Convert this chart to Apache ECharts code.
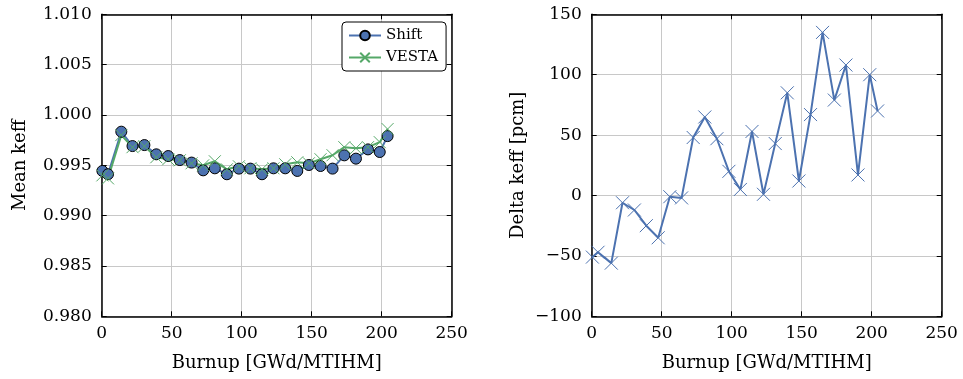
<!DOCTYPE html>
<html>
<head>
<meta charset="utf-8">
<script src="https://cdn.jsdelivr.net/npm/echarts@6/dist/echarts.min.js"></script>
<style>html,body{margin:0;padding:0;background:#fff;}#c{width:963px;height:379px;}</style>
</head>
<body>
<div id="c"></div>
<script>
// Burnup steps [GWd/MTIHM]
var burnup = [0.5, 4.5, 14, 22, 30.5, 39, 47.5, 55.8, 64.2, 72.5, 80.8, 89.4, 98, 106.2, 114.5, 122.7, 131.1, 139.7, 148, 156.3, 164.9, 173.3, 181.6, 190.2, 198.6, 204.2];
// Mean keff, Shift
var shiftKeff = [0.99444, 0.99411, 0.99834, 0.99691, 0.99701, 0.99609, 0.99592, 0.99552, 0.99527, 0.99450, 0.99470, 0.99411, 0.99467, 0.99467, 0.99411, 0.99470, 0.99470, 0.99444, 0.99503, 0.99493, 0.99467, 0.99599, 0.99566, 0.99658, 0.99632, 0.99790];
// Mean keff, VESTA
var vestaKeff = [0.99400, 0.99370, 0.99800, 0.99680, 0.99690, 0.99580, 0.99560, 0.99550, 0.99520, 0.99500, 0.99540, 0.99460, 0.99490, 0.99470, 0.99460, 0.99470, 0.99510, 0.99530, 0.99520, 0.99560, 0.99600, 0.99680, 0.99670, 0.99680, 0.99730, 0.99860];
// Delta keff [pcm]
var deltaPcm = [-51, -47, -56, -6, -12, -25, -35, -1, -2, 48, 65, 47, 20, 5, 53, 1, 43, 85, 12, 67, 135, 79, 108, 17, 100, 70];

var xTicks = [0, 50, 100, 150, 200, 250];
var leftYTicks = [0.980, 0.985, 0.990, 0.995, 1.000, 1.005, 1.010];
var rightYTicks = [-100, -50, 0, 50, 100, 150];

function pairs(xs, ys) { return xs.map(function (x, i) { return [x, ys[i]]; }); }

var FONT = 'DejaVu Serif';
var BLUE = '#4c72b0';
var GREEN = '#55a868';
var XMARK = 'path://M0,0L10,10M0,10L10,0';

function mkX(gridIndex, pos, main) {
  return {
    type: 'value', gridIndex: gridIndex, position: pos,
    min: xTicks[0], max: xTicks[xTicks.length - 1], interval: xTicks[1] - xTicks[0],
    name: main ? 'Burnup [GWd/MTIHM]' : '', nameLocation: 'middle', nameGap: 38,
    nameTextStyle: { fontFamily: FONT, fontSize: 18, color: '#000' },
    axisLine: { show: true, onZero: false, lineStyle: { color: '#000', width: 1.5 } },
    axisTick: { show: true, inside: true, length: 5, lineStyle: { color: '#000', width: 1 } },
    axisLabel: { show: main, fontFamily: FONT, fontSize: 17, color: '#000', margin: 9 },
    splitLine: { show: main, lineStyle: { color: '#c8c8c8', width: 1 } }
  };
}
function mkY(gridIndex, pos, main, ticks, name, gap, fmt) {
  return {
    type: 'value', gridIndex: gridIndex, position: pos,
    min: ticks[0], max: ticks[ticks.length - 1], interval: ticks[1] - ticks[0],
    name: main ? name : '', nameLocation: 'middle', nameGap: gap, nameRotate: 90,
    nameTextStyle: { fontFamily: FONT, fontSize: 18, color: '#000' },
    axisLine: { show: true, onZero: false, lineStyle: { color: '#000', width: 1.5 } },
    axisTick: { show: true, inside: true, length: 5, lineStyle: { color: '#000', width: 1 } },
    axisLabel: { show: main, fontFamily: FONT, fontSize: 17, color: '#000', margin: 10, formatter: fmt },
    splitLine: { show: main, lineStyle: { color: '#c8c8c8', width: 1 } }
  };
}

var chart = echarts.init(document.getElementById('c'), null, { renderer: 'canvas' });
chart.setOption({
  animation: false,
  backgroundColor: '#fff',
  grid: [
    { left: 101.7, top: 14.3, width: 350, height: 302 },
    { left: 591.7, top: 14.3, width: 350, height: 302 }
  ],
  xAxis: [mkX(0, 'bottom', true), mkX(0, 'top', false), mkX(1, 'bottom', true), mkX(1, 'top', false)],
  yAxis: [
    mkY(0, 'left', true, leftYTicks, 'Mean keff', 72, function (v) { return v.toFixed(3); }),
    mkY(0, 'right', false, leftYTicks, '', 0, null),
    mkY(1, 'left', true, rightYTicks, 'Delta keff [pcm]', 64, function (v) { return v < 0 ? '\u2212' + Math.abs(v) : String(v); }),
    mkY(1, 'right', false, rightYTicks, '', 0, null)
  ],
  legend: {
    orient: 'vertical', left: 342, top: 22,
    padding: [6, 8, 6, 6], itemGap: 7, itemWidth: 32, itemHeight: 12,
    backgroundColor: '#fff', borderColor: '#000', borderWidth: 1, borderRadius: 4,
    textStyle: { fontFamily: FONT, fontSize: 15, color: '#000' },
    data: ['Shift', 'VESTA']
  },
  series: [
    {
      name: 'Shift', type: 'line', xAxisIndex: 0, yAxisIndex: 0,
      data: pairs(burnup, shiftKeff),
      symbol: 'circle', symbolSize: 11,
      lineStyle: { color: BLUE, width: 2 },
      itemStyle: { color: BLUE, borderColor: '#000', borderWidth: 1 }
    },
    {
      name: 'VESTA', type: 'line', xAxisIndex: 0, yAxisIndex: 0,
      data: pairs(burnup, vestaKeff),
      symbol: XMARK, symbolSize: 12,
      lineStyle: { color: GREEN, width: 2 },
      itemStyle: { color: 'rgba(0,0,0,0)', borderColor: GREEN, borderWidth: 1 }
    },
    {
      name: 'Delta', type: 'line', xAxisIndex: 2, yAxisIndex: 2,
      data: pairs(burnup, deltaPcm),
      symbol: XMARK, symbolSize: 13,
      lineStyle: { color: BLUE, width: 2 },
      itemStyle: { color: 'rgba(0,0,0,0)', borderColor: BLUE, borderWidth: 1 }
    }
  ]
});
</script>
</body>
</html>
